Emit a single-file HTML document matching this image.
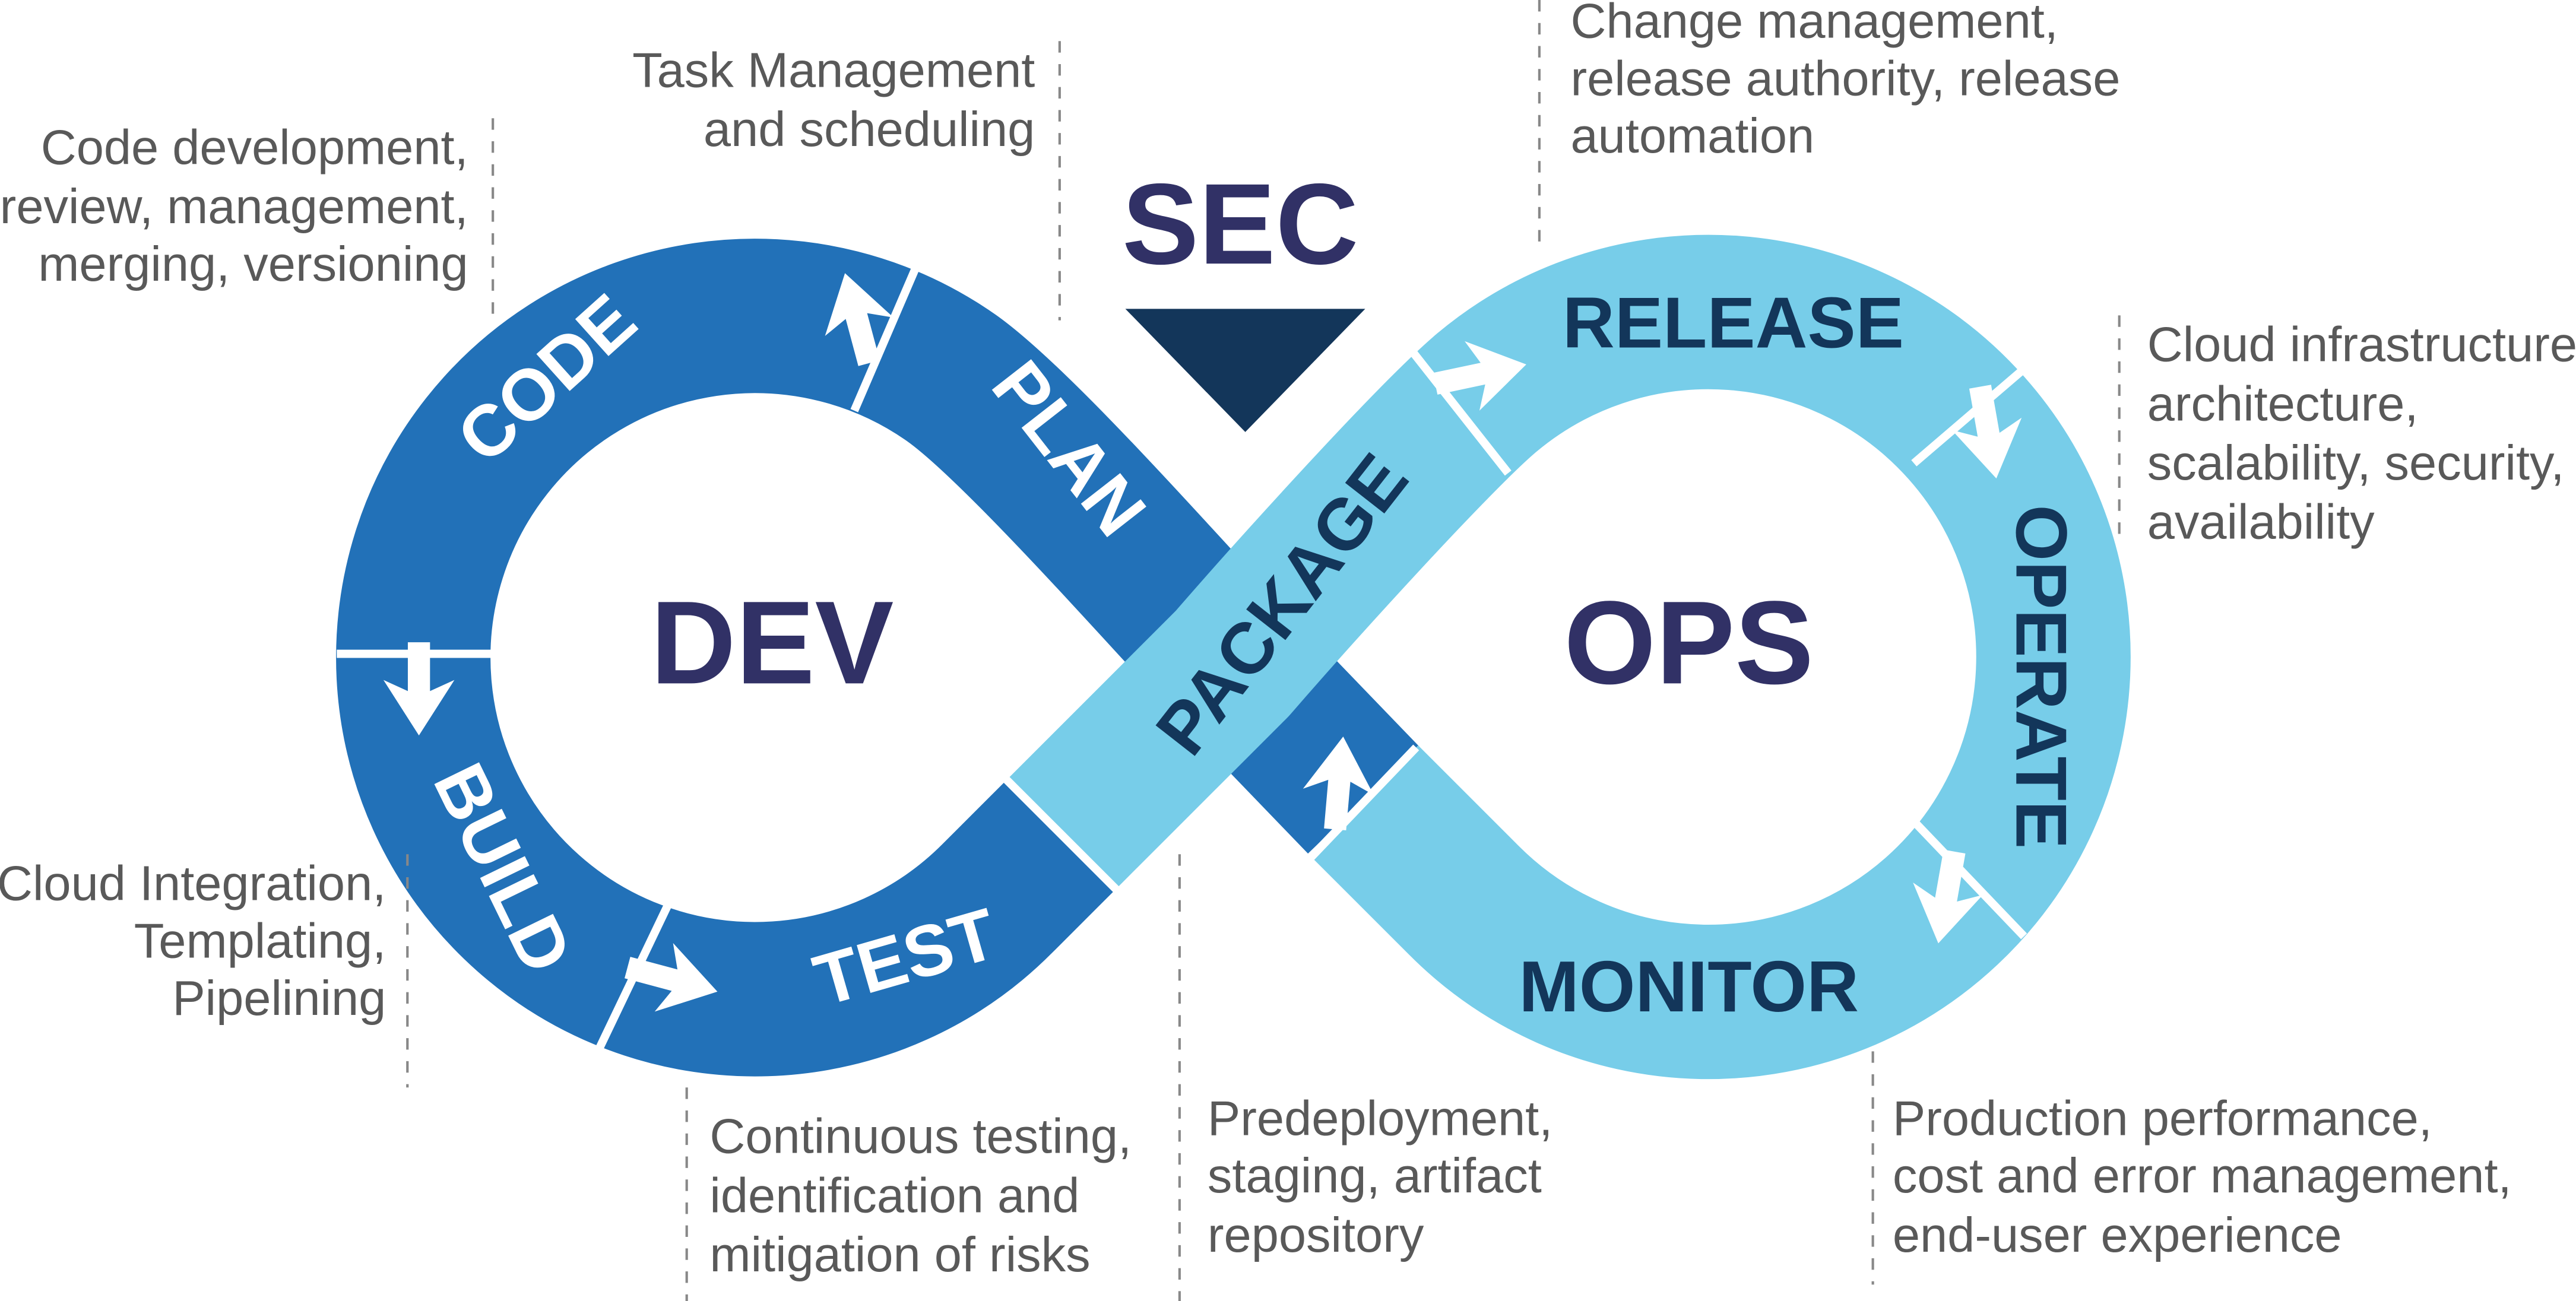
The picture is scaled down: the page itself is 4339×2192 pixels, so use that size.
<!DOCTYPE html>
<html><head><meta charset="utf-8"><style>
html,body{margin:0;padding:0;background:#fff;}
svg{display:block;}
text{font-family:"Liberation Sans",Arial,sans-serif;}
.ann{font-size:30px;fill:#595959;dominant-baseline:middle;}
.band{font-size:44px;font-weight:bold;dominant-baseline:middle;text-anchor:middle;}
</style></head><body>
<svg width="4339" height="2192" viewBox="0 0 1568 792" preserveAspectRatio="none" xmlns="http://www.w3.org/2000/svg">
<rect width="1568" height="792" fill="#fff"/>
<g fill="none" stroke-width="94" stroke-linecap="butt" stroke-linejoin="round">
<path d="M830,487 L750,404 C709,361 620,259 579,230 A208 208 0 1 0 607,547 L646,508" stroke="#2271b8"/>
<path d="M646,508 L750,404 C789,359 874,265 905,239 A210 210 0 1 1 891,548 L830,487" stroke="#77cde9"/>
</g>
<g stroke="#fff" stroke-width="5">
<line x1="563" y1="150" x2="520" y2="250"/>
<line x1="205" y1="398" x2="305" y2="398"/>
<line x1="363" y1="642" x2="407" y2="550"/>
<line x1="612" y1="474" x2="680" y2="542"/>
<line x1="855" y1="208" x2="918" y2="288"/>
<line x1="1235" y1="222" x2="1165" y2="282"/>
<line x1="1165" y1="500" x2="1232" y2="570"/>
<line x1="795" y1="525" x2="862" y2="455"/>
</g>
<g fill="#fff">
<g transform="translate(522,195) rotate(-105) scale(1.35)"><polygon points="-20,-5 2,-5 -3,-16 22,0 -3,16 2,5 -20,5"/></g>
<g transform="translate(255,418) rotate(90) scale(1.35)"><polygon points="-20,-5 2,-5 -3,-16 22,0 -3,16 2,5 -20,5"/></g>
<g transform="translate(408,596) rotate(15) scale(1.35)"><polygon points="-20,-5 2,-5 -3,-16 22,0 -3,16 2,5 -20,5"/></g>
<g transform="translate(815,478) rotate(-85) scale(1.35)"><polygon points="-20,-5 2,-5 -3,-16 22,0 -3,16 2,5 -20,5"/></g>
<g transform="translate(900,228) rotate(-12) scale(1.35)"><polygon points="-20,-5 2,-5 -3,-16 22,0 -3,16 2,5 -20,5"/></g>
<g transform="translate(1210,262) rotate(80) scale(1.35)"><polygon points="-20,-5 2,-5 -3,-16 22,0 -3,16 2,5 -20,5"/></g>
<g transform="translate(1185,545) rotate(100) scale(1.35)"><polygon points="-20,-5 2,-5 -3,-16 22,0 -3,16 2,5 -20,5"/></g>
</g>
<text class="band" fill="#fff" transform="translate(335,233) rotate(-42)">CODE</text>
<text class="band" fill="#fff" transform="translate(648,275) rotate(52)">PLAN</text>
<text class="band" fill="#fff" transform="translate(303,530) rotate(64)">BUILD</text>
<text class="band" fill="#fff" transform="translate(552,586) rotate(-16)">TEST</text>
<text class="band" fill="#13365a" transform="translate(783,370) rotate(-52)">PACKAGE</text>
<text class="band" fill="#13365a" transform="translate(1055,200)">RELEASE</text>
<text class="band" fill="#13365a" transform="translate(1239,412) rotate(90)">OPERATE</text>
<text class="band" fill="#13365a" transform="translate(1028,604)">MONITOR</text>
<text x="470" y="397" font-size="72" font-weight="bold" fill="#313166" text-anchor="middle" dominant-baseline="middle">DEV</text>
<text x="1028" y="397" font-size="72" font-weight="bold" fill="#313166" text-anchor="middle" dominant-baseline="middle">OPS</text>
<text x="755" y="142" font-size="70" font-weight="bold" fill="#313166" text-anchor="middle" dominant-baseline="middle">SEC</text>
<polygon points="685,188 831,188 758,263" fill="#13365a"/>
<g stroke="#888" stroke-width="1.5" stroke-dasharray="7,7">
<line x1="300" y1="72" x2="300" y2="192"/>
<line x1="645" y1="25" x2="645" y2="195"/>
<line x1="937" y1="0" x2="937" y2="150"/>
<line x1="1290" y1="192" x2="1290" y2="332"/>
<line x1="248" y1="520" x2="248" y2="662"/>
<line x1="418" y1="662" x2="418" y2="792"/>
<line x1="718" y1="520" x2="718" y2="792"/>
<line x1="1140" y1="640" x2="1140" y2="782"/>
</g>
<text x="285" y="92" text-anchor="end" class="ann">Code development,</text>
<text x="285" y="128" text-anchor="end" class="ann">review, management,</text>
<text x="285" y="163" text-anchor="end" class="ann">merging, versioning</text>
<text x="630" y="45" text-anchor="end" class="ann">Task Management</text>
<text x="630" y="81" text-anchor="end" class="ann">and scheduling</text>
<text x="956" y="15" class="ann">Change management,</text>
<text x="956" y="50" class="ann">release authority, release</text>
<text x="956" y="85" class="ann">automation</text>
<text x="1307" y="212" class="ann">Cloud infrastructure</text>
<text x="1307" y="248" class="ann">architecture,</text>
<text x="1307" y="284" class="ann">scalability, security,</text>
<text x="1307" y="320" class="ann">availability</text>
<text x="235" y="540" text-anchor="end" class="ann">Cloud Integration,</text>
<text x="235" y="575" text-anchor="end" class="ann">Templating,</text>
<text x="235" y="610" text-anchor="end" class="ann">Pipelining</text>
<text x="432" y="694" class="ann">Continuous testing,</text>
<text x="432" y="730" class="ann">identification and</text>
<text x="432" y="766" class="ann">mitigation of risks</text>
<text x="735" y="683" class="ann">Predeployment,</text>
<text x="735" y="718" class="ann">staging, artifact</text>
<text x="735" y="754" class="ann">repository</text>
<text x="1152" y="683" class="ann">Production performance,</text>
<text x="1152" y="718" class="ann">cost and error management,</text>
<text x="1152" y="754" class="ann">end-user experience</text>
</svg>
</body></html>
